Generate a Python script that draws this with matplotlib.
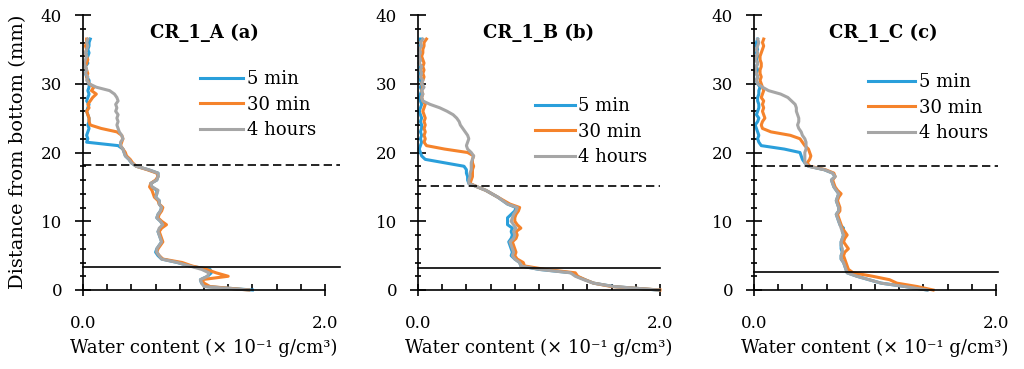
import matplotlib
matplotlib.use("Agg")
import matplotlib.pyplot as plt
from matplotlib.ticker import MultipleLocator

plt.rcParams['font.family'] = ['DejaVu Serif']
plt.rcParams['font.size'] = 12

# distance from bottom (mm), shared sampling for every profile
depth = [0, 0.5, 1, 1.5, 2, 2.5, 3, 3.5, 4, 4.5,
         5, 5.5, 6, 6.5, 7, 7.5, 8, 8.5, 9, 9.5,
         10, 10.5, 11, 11.5, 12, 12.5, 13, 13.5, 14, 14.5,
         15, 15.5, 16, 16.5, 17, 17.5, 18, 18.5, 19, 19.5,
         20, 20.5, 21, 21.5, 22, 22.5, 23, 23.5, 24, 24.5,
         25, 25.5, 26, 26.5, 27, 27.5, 28, 28.5, 29, 29.5,
         30, 30.5, 31, 31.5, 32, 32.5, 33, 33.5, 34, 34.5,
         35, 35.5, 36, 36.5]

# water content (x 10^-1 g/cm3)
a_5min = [1.40, 1.02, 0.98, 0.97, 1.03, 1.06, 1.05, 0.88, 0.78, 0.65,
          0.62, 0.60, 0.61, 0.63, 0.65, 0.64, 0.63, 0.62, 0.64, 0.66,
          0.64, 0.61, 0.62, 0.64, 0.65, 0.63, 0.63, 0.60, 0.61, 0.61,
          0.57, 0.56, 0.61, 0.62, 0.62, 0.54, 0.44, 0.40, 0.38, 0.35,
          0.34, 0.33, 0.29, 0.03, 0.04, 0.03, 0.04, 0.05, 0.04, 0.05,
          0.05, 0.04, 0.03, 0.04, 0.05, 0.03, 0.04, 0.05, 0.04, 0.05,
          0.05, 0.05, 0.03, 0.02, 0.03, 0.02, 0.04, 0.03, 0.04, 0.05,
          0.04, 0.05, 0.05, 0.06]
a_30min = [1.37, 1.05, 1.00, 0.98, 1.20, 1.10, 1.02, 0.90, 0.82, 0.66,
           0.63, 0.61, 0.62, 0.64, 0.66, 0.65, 0.64, 0.63, 0.65, 0.69,
           0.65, 0.62, 0.63, 0.65, 0.66, 0.63, 0.62, 0.59, 0.58, 0.57,
           0.55, 0.56, 0.60, 0.62, 0.61, 0.53, 0.44, 0.41, 0.39, 0.36,
           0.35, 0.33, 0.31, 0.32, 0.33, 0.32, 0.28, 0.15, 0.06, 0.05,
           0.05, 0.04, 0.03, 0.05, 0.04, 0.06, 0.08, 0.11, 0.07, 0.09,
           0.05, 0.04, 0.03, 0.04, 0.03, 0.02, 0.03, 0.04, 0.03, 0.02,
           0.03, 0.02, 0.03, 0.03]
a_4h = [1.37, 1.00, 0.98, 0.97, 1.03, 1.04, 0.98, 0.88, 0.78, 0.65,
        0.63, 0.61, 0.61, 0.63, 0.65, 0.64, 0.63, 0.62, 0.63, 0.66,
        0.64, 0.61, 0.62, 0.64, 0.65, 0.63, 0.63, 0.60, 0.61, 0.62,
        0.57, 0.56, 0.61, 0.62, 0.62, 0.54, 0.44, 0.40, 0.38, 0.35,
        0.34, 0.33, 0.31, 0.31, 0.33, 0.32, 0.30, 0.29, 0.28, 0.29,
        0.28, 0.29, 0.27, 0.28, 0.27, 0.29, 0.28, 0.26, 0.22, 0.11,
        0.05, 0.03, 0.04, 0.02, 0.03, 0.02, 0.01, 0.02, 0.03, 0.02,
        0.03, 0.04, 0.03, 0.04]

b_5min = [1.98, 1.62, 1.45, 1.38, 1.31, 1.27, 1.00, 0.85, 0.84, 0.80,
          0.77, 0.78, 0.77, 0.76, 0.75, 0.77, 0.78, 0.77, 0.78, 0.74,
          0.74, 0.74, 0.77, 0.80, 0.81, 0.74, 0.70, 0.66, 0.61, 0.56,
          0.49, 0.42, 0.41, 0.41, 0.40, 0.40, 0.38, 0.22, 0.06, 0.03,
          0.02, 0.01, 0.02, 0.03, 0.02, 0.03, 0.02, 0.03, 0.03, 0.02,
          0.03, 0.02, 0.01, 0.02, 0.03, 0.02, 0.01, 0.02, 0.03, 0.02,
          0.03, 0.02, 0.01, 0.02, 0.01, 0.02, 0.01, 0.02, 0.01, 0.02,
          0.01, 0.02, 0.02, 0.02]
b_30min = [2.00, 1.60, 1.45, 1.38, 1.32, 1.30, 1.05, 0.88, 0.87, 0.82,
           0.80, 0.81, 0.80, 0.79, 0.78, 0.81, 0.82, 0.81, 0.85, 0.82,
           0.80, 0.80, 0.81, 0.83, 0.84, 0.76, 0.71, 0.66, 0.61, 0.56,
           0.49, 0.43, 0.44, 0.45, 0.45, 0.45, 0.46, 0.45, 0.45, 0.46,
           0.41, 0.22, 0.07, 0.05, 0.06, 0.05, 0.06, 0.05, 0.06, 0.05,
           0.06, 0.05, 0.04, 0.05, 0.06, 0.04, 0.03, 0.04, 0.03, 0.04,
           0.03, 0.04, 0.05, 0.04, 0.05, 0.04, 0.05, 0.04, 0.03, 0.04,
           0.04, 0.05, 0.05, 0.07]
b_4h = [1.99, 1.62, 1.45, 1.37, 1.30, 1.26, 1.00, 0.85, 0.84, 0.80,
        0.78, 0.79, 0.78, 0.77, 0.76, 0.79, 0.80, 0.79, 0.81, 0.79,
        0.77, 0.78, 0.79, 0.81, 0.82, 0.74, 0.70, 0.66, 0.61, 0.56,
        0.49, 0.42, 0.42, 0.43, 0.43, 0.44, 0.44, 0.44, 0.45, 0.46,
        0.44, 0.41, 0.40, 0.41, 0.42, 0.41, 0.39, 0.37, 0.35, 0.34,
        0.32, 0.29, 0.24, 0.18, 0.10, 0.04, 0.03, 0.04, 0.03, 0.05,
        0.03, 0.04, 0.02, 0.03, 0.02, 0.03, 0.01, 0.02, 0.01, 0.02,
        0.01, 0.03, 0.02, 0.04]

c_5min = [1.43, 1.25, 1.05, 0.95, 0.85, 0.77, 0.76, 0.75, 0.74, 0.72,
          0.72, 0.73, 0.72, 0.72, 0.72, 0.73, 0.74, 0.73, 0.74, 0.71,
          0.70, 0.69, 0.68, 0.70, 0.70, 0.69, 0.68, 0.69, 0.70, 0.68,
          0.66, 0.65, 0.64, 0.67, 0.65, 0.58, 0.45, 0.42, 0.40, 0.39,
          0.38, 0.25, 0.06, 0.04, 0.03, 0.04, 0.03, 0.02, 0.01, 0.03,
          0.04, 0.02, 0.03, 0.04, 0.04, 0.03, 0.03, 0.04, 0.04, 0.05,
          0.03, 0.02, 0.03, 0.02, 0.03, 0.02, 0.03, 0.02, 0.03, 0.02,
          0.03, 0.02, 0.02, 0.03]
c_30min = [1.48, 1.35, 1.18, 1.12, 0.98, 0.82, 0.78, 0.77, 0.76, 0.75,
           0.74, 0.75, 0.78, 0.76, 0.74, 0.75, 0.77, 0.75, 0.73, 0.72,
           0.71, 0.70, 0.69, 0.71, 0.71, 0.70, 0.69, 0.70, 0.72, 0.69,
           0.67, 0.66, 0.65, 0.67, 0.66, 0.59, 0.46, 0.44, 0.46, 0.47,
           0.46, 0.45, 0.42, 0.40, 0.38, 0.30, 0.14, 0.07, 0.06, 0.07,
           0.09, 0.08, 0.07, 0.08, 0.07, 0.08, 0.06, 0.07, 0.08, 0.07,
           0.06, 0.05, 0.06, 0.05, 0.05, 0.06, 0.06, 0.05, 0.05, 0.06,
           0.07, 0.08, 0.07, 0.08]
c_4h = [1.43, 1.25, 1.05, 0.95, 0.85, 0.77, 0.76, 0.75, 0.74, 0.72,
        0.72, 0.73, 0.73, 0.72, 0.72, 0.73, 0.74, 0.73, 0.72, 0.71,
        0.70, 0.69, 0.68, 0.70, 0.70, 0.69, 0.68, 0.69, 0.70, 0.68,
        0.66, 0.65, 0.64, 0.67, 0.65, 0.58, 0.45, 0.42, 0.42, 0.42,
        0.42, 0.43, 0.43, 0.43, 0.42, 0.40, 0.39, 0.37, 0.36, 0.37,
        0.37, 0.36, 0.35, 0.35, 0.34, 0.31, 0.28, 0.22, 0.12, 0.07,
        0.03, 0.02, 0.03, 0.02, 0.01, 0.02, 0.03, 0.01, 0.02, 0.03,
        0.02, 0.03, 0.04, 0.03]

labels = ["5 min", "30 min", "4 hours"]
colors = ["#2A9FDB", "#F5832B", "#A6A6A6"]
titles = ["CR_1_A (a)", "CR_1_B (b)", "CR_1_C (c)"]
profiles = [[a_5min, a_30min, a_4h], [b_5min, b_30min, b_4h], [c_5min, c_30min, c_4h]]
dashed_y = [18.2, 15.1, 18.0]
solid_y = [3.3, 3.2, 2.6]

fig = plt.figure(figsize=(10.24, 3.69), dpi=100)
W, H = 1024.0, 369.0
ax_left = [83, 418, 754]
line_end = [2.12, 2.0, 2.02]
leg_pos = [(200, 70), (535, 97), (868, 73)]
leg_len = [2.4, 2.2, 2.6]
title_x = [1.0, 1.0, 1.07]

for i in range(3):
    ax = fig.add_axes([ax_left[i] / W, 79 / H, 242 / W, 275 / H])
    for vals, lab, col in zip(profiles[i], labels, colors):
        ax.plot(vals, depth, color=col, lw=2.2, label=lab, clip_on=False)
    ax.plot([0, line_end[i]], [dashed_y[i], dashed_y[i]], color="black", lw=1.2,
            dashes=(5, 2.6), clip_on=False)
    ax.plot([0, line_end[i]], [solid_y[i], solid_y[i]], color="black", lw=1.2,
            clip_on=False)

    ax.set_xlim(0, 2)
    ax.set_ylim(0, 40)
    ax.spines["top"].set_visible(False)
    ax.spines["right"].set_visible(False)
    ax.set_xticks([0, 2])
    ax.set_xticklabels(["0.0", "2.0"])
    ax.xaxis.set_minor_locator(MultipleLocator(0.2))
    ax.yaxis.set_major_locator(MultipleLocator(10))
    ax.yaxis.set_minor_locator(MultipleLocator(2))
    ax.tick_params(axis="x", which="major", direction="inout", length=8, width=1.2, pad=14)
    ax.tick_params(axis="x", which="minor", direction="in", length=4, width=1.2)
    ax.tick_params(axis="y", which="major", direction="inout", length=12, width=1.2, pad=9)
    ax.tick_params(axis="y", which="minor", direction="inout", length=5, width=1.2)
    ax.tick_params(labelsize=12)
    for s in ["left", "bottom"]:
        ax.spines[s].set_linewidth(1.2)

    ax.set_xlabel("Water content (× 10⁻¹ g/cm³)", fontsize=13, labelpad=5)
    ax.text(title_x[i], 37.4, titles[i], ha="center", va="center",
            fontweight="bold", fontsize=13)

    lx, ly = leg_pos[i]
    ax.legend(loc="upper left", bbox_to_anchor=(lx / W, 1 - ly / H),
              bbox_transform=fig.transFigure, frameon=False, fontsize=13,
              handlelength=leg_len[i], handletextpad=0.2, labelspacing=0.42,
              borderpad=0, borderaxespad=0)

fig.text(18 / W, 1 - 152 / H, "Distance from bottom (mm)", rotation=90,
         ha="center", va="center", fontsize=14)

fig.savefig("out.png", dpi=100)
